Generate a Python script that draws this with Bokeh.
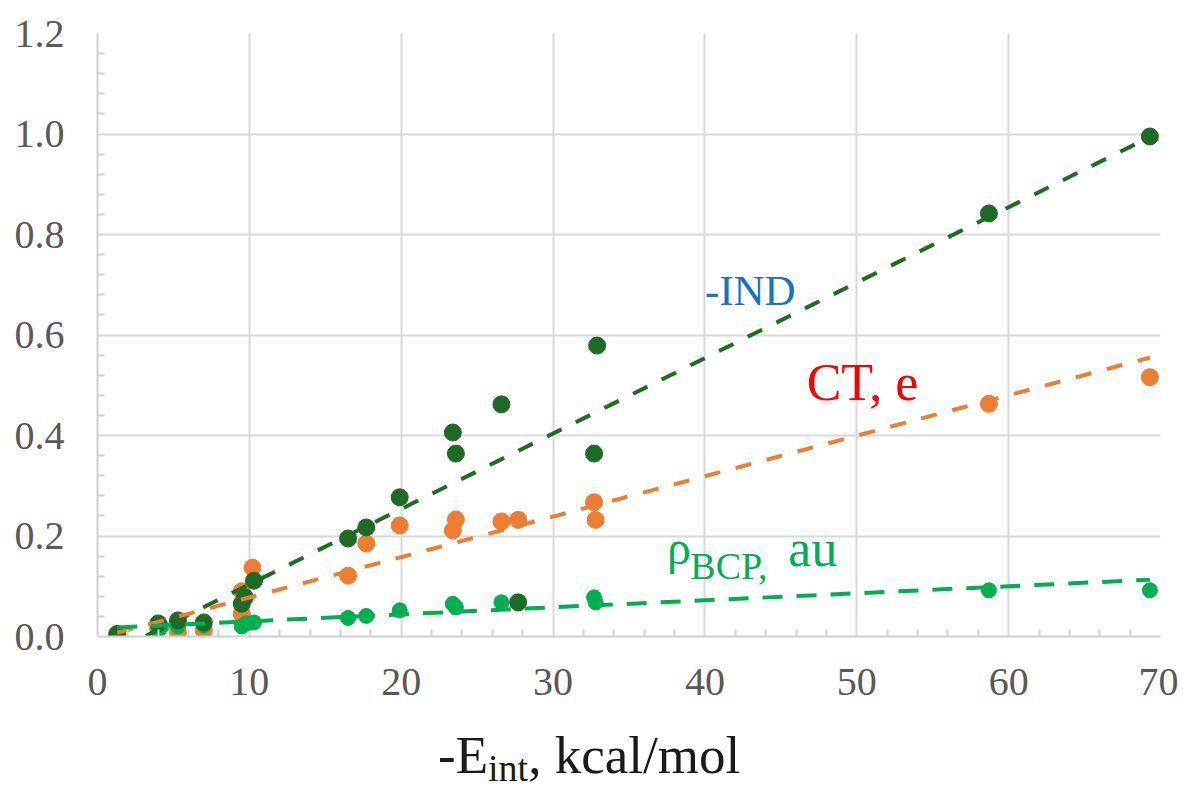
from bokeh.plotting import figure
from bokeh.models import Range1d, Label, FixedTicker, NumeralTickFormatter, Div
from bokeh.layouts import column
from bokeh.embed import file_html
from bokeh.resources import INLINE

# ---- data ----
ind_x = [1.3, 4.0, 5.3, 7.0, 9.5, 9.7, 10.3, 16.5, 17.7, 19.9, 23.4, 23.6, 26.6, 27.7, 32.7, 32.9, 58.7, 69.3]
ind_y = [0.005, 0.026, 0.032, 0.028, 0.065, 0.078, 0.111, 0.195, 0.217, 0.277, 0.406, 0.364, 0.462, 0.068, 0.364, 0.579, 0.842, 0.995]

ct_x = [1.3, 4.0, 5.3, 7.0, 9.5, 9.5, 10.2, 16.5, 17.7, 19.9, 23.4, 23.6, 26.6, 27.7, 32.7, 32.8, 58.7, 69.3]
ct_y = [0.004, 0.015, 0.008, 0.012, 0.045, 0.090, 0.137, 0.121, 0.185, 0.221, 0.211, 0.233, 0.229, 0.232, 0.267, 0.232, 0.463, 0.516]

rho_x = [1.3, 4.0, 4.2, 5.3, 7.0, 9.5, 9.8, 10.3, 16.5, 17.7, 19.9, 23.4, 23.6, 26.6, 27.7, 32.7, 32.8, 58.7, 69.3]
rho_y = [0.006, 0.012, 0.020, 0.020, 0.022, 0.020, 0.026, 0.028, 0.037, 0.041, 0.052, 0.065, 0.058, 0.068, 0.066, 0.078, 0.068, 0.092, 0.092]

# trend lines (end points)
ind_trend_x = [1.3, 69.3]
ind_trend_y = [-0.027, 0.994]
ct_trend_x = [1.3, 69.3]
ct_trend_y = [0.0075, 0.555]
rho_trend_x = [1.3, 69.3]
rho_trend_y = [0.018, 0.113]

x_ticks = [0, 10, 20, 30, 40, 50, 60, 70]
y_ticks = [0.0, 0.2, 0.4, 0.6, 0.8, 1.0, 1.2]

C_IND = "#1d6b24"
C_CT = "#ed7d31"
C_RHO = "#00b050"
FONT = "Liberation Serif"

x_minor = [t + 2 * k for t in x_ticks[:-1] for k in range(1, 5)]
y_minor = [round(t + 0.04 * k, 2) for t in y_ticks[:-1] for k in range(1, 5)]

p = figure(width=1178, height=708, output_backend="svg", toolbar_location=None,
           x_range=Range1d(0, 70), y_range=Range1d(0, 1.2),
           min_border_left=97, min_border_right=18, min_border_top=33, min_border_bottom=72)
p.outline_line_color = None
p.background_fill_color = "white"

p.xaxis.ticker = FixedTicker(ticks=x_ticks, minor_ticks=x_minor)
p.yaxis.ticker = FixedTicker(ticks=y_ticks, minor_ticks=y_minor)
p.yaxis.formatter = NumeralTickFormatter(format="0.0")

for ax in (p.xaxis[0], p.yaxis[0]):
    ax.axis_line_color = "#d0d0d0"
    ax.axis_line_width = 2
    ax.major_tick_out = 0
    ax.major_tick_in = 0
    ax.minor_tick_out = 0
    ax.minor_tick_in = 7
    ax.minor_tick_line_color = "#d0d0d0"
    ax.minor_tick_line_width = 2
    ax.major_label_text_font = FONT
    ax.major_label_text_font_size = "40px"
    ax.major_label_text_color = "#595959"
p.xaxis.major_label_standoff = 32
p.yaxis.major_label_standoff = 33

p.xgrid.grid_line_color = "#d9d9d9"
p.ygrid.grid_line_color = "#d9d9d9"
p.xgrid.grid_line_width = 2
p.ygrid.grid_line_width = 2

# points
p.scatter(ct_x, ct_y, size=17, color=C_CT)
p.scatter(rho_x, rho_y, size=15, color=C_RHO)
p.scatter(ind_x, ind_y, size=17, color=C_IND)

# trendlines
p.line(ind_trend_x, ind_trend_y, line_color=C_IND, line_width=4, line_dash="16 16")
p.line(ct_trend_x, ct_trend_y, line_color=C_CT, line_width=4, line_dash="16 16")
p.line(rho_trend_x, rho_trend_y, line_color=C_RHO, line_width=4, line_dash="20 14")

# in-plot labels
p.add_layout(Label(x=40.0, y=0.688, text="-IND", text_font=FONT, text_font_size="43px",
                   text_color="#1b72c0", text_baseline="alphabetic"))
p.add_layout(Label(x=46.7, y=0.505, text="CT, e", text_font=FONT, text_font_size="52px",
                   text_color="#ff0000", text_baseline="alphabetic"))
p.add_layout(Label(x=37.5, y=0.1775, text="\u03c1", text_font=FONT, text_font_size="48px",
                   text_color=C_RHO, text_baseline="alphabetic"))
p.add_layout(Label(x=39.04, y=0.141, text="BCP,", text_font=FONT,
                   text_font_size="38px", text_color=C_RHO, text_baseline="alphabetic"))
p.add_layout(Label(x=45.49, y=0.176, text="au", text_font=FONT,
                   text_font_size="52px", text_color=C_RHO, text_baseline="alphabetic"))

# x-axis title with subscript
title_html = (
    '<div style="font-family:\'Liberation Serif\';font-size:53px;line-height:58px;'
    'padding-left:433px;padding-top:13px;color:#1a1a1a;white-space:nowrap;overflow:visible;">'
    '-E<sub style="font-size:38px;line-height:0;vertical-align:-8px;">int</sub>, kcal/mol</div>'
)
xtitle = Div(text=title_html, width=1178, height=80)

layout = column(p, xtitle)
open("out.html", "w").write(file_html(layout, INLINE))
